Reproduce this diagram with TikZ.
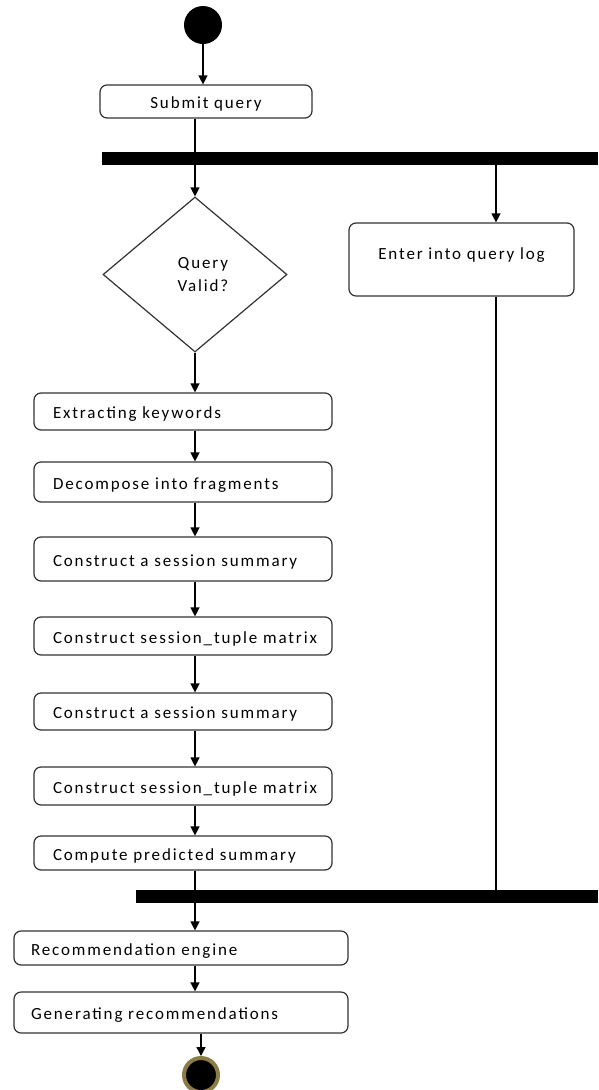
\documentclass[tikz,border=0pt]{standalone}
\usepackage{fontspec}
\setmainfont{Carlito}[LetterSpace=11]
\usetikzlibrary{shapes,arrows.meta,positioning}
\definecolor{boxline}{RGB}{50,50,50}
\definecolor{ringolive}{RGB}{140,125,70}

\tikzset{
  stepbox/.style={draw=boxline,line width=1.2pt,rounded corners=7pt,inner xsep=19pt,inner ysep=0pt,
                  text width=260pt,align=left,text height=18pt,text depth=4pt,minimum height=38},
  widebox/.style={stepbox,inner xsep=17pt,text width=300pt},
  bar/.style={fill=black,inner sep=0pt,minimum height=13pt,anchor=north west},
  startdot/.style={circle,fill=black,inner sep=0pt,minimum size=38pt},
  stopdot/.style={circle,fill=black,draw=ringolive,line width=4pt,inner sep=0pt,minimum size=34pt},
  flow/.style={line width=1.3pt,-{Triangle[width=9pt,length=9pt]}},
  link/.style={line width=1.3pt}
}

\begin{document}
\begin{tikzpicture}[x=1pt,y=-1pt,font=\fontsize{17}{23}\selectfont]
\useasboundingbox (0,0) rectangle (598,1090);

\node[startdot] (start) at (203,25) {};
\node[stepbox,inner xsep=11pt,text width=190pt,align=center,minimum height=33] (submit) at (206,101.5) {Submit query};
\node[bar,minimum width=496pt] (fork) at (102,152) {};

\node[diamond,draw=boxline,line width=1.2pt,inner sep=0pt,minimum width=184pt,minimum height=155pt] (valid) at (195,274.5) {};
\node[align=center] (validtext) at (203,275) {Query\\Valid?};

\coordinate (branch) at (496,0);
\node[stepbox,inner xsep=12.5pt,text width=200pt,align=center,minimum height=73,text depth=19pt] (log) at (461.5,259.5) {Enter into query log};

% main column
\foreach \txt/\y/\h [count=\n] in {Extracting keywords/411.5/37,Decompose into fragments/482/40,
    Construct a session summary/559/44,Construct session\_tuple matrix/636/38,
    Construct a session summary/711.5/37,Construct session\_tuple matrix/786/38,
    Compute predicted summary/853/34}
  \node[stepbox,minimum height=\h] (s\n) at (183,\y) {\txt};

\node[bar,minimum width=462pt] (join) at (136,890) {};
\node[widebox,minimum height=34] (engine) at (181,948) {Recommendation engine};
\node[widebox,minimum height=41] (generate) at (181,1012.5) {Generating recommendations};
\node[stopdot] (stop) at (201,1075) {};

% connectors
\draw[flow] (start.south) -- (submit.north -| start);
\draw[link] (submit.south -| valid) -- (fork.north -| valid);
\draw[flow] (fork.south -| valid) -- (valid.north);
\draw[flow] (fork.south -| branch) -- (log.north -| branch);
\draw[link] (log.south -| branch) -- (join.north -| branch);
\draw[flow] (valid.south) -- (s1.north -| valid);
\foreach \a/\b in {1/2,2/3,3/4,4/5,5/6,6/7}
  \draw[flow] (s\a.south -| valid) -- (s\b.north -| valid);
\draw[link] (s7.south -| valid) -- (join.north -| valid);
\draw[flow] (join.south -| valid) -- (engine.north -| valid);
\draw[flow] (engine.south -| valid) -- (generate.north -| valid);
\draw[flow] (generate.south -| stop) -- (stop.north);
\end{tikzpicture}
\end{document}
